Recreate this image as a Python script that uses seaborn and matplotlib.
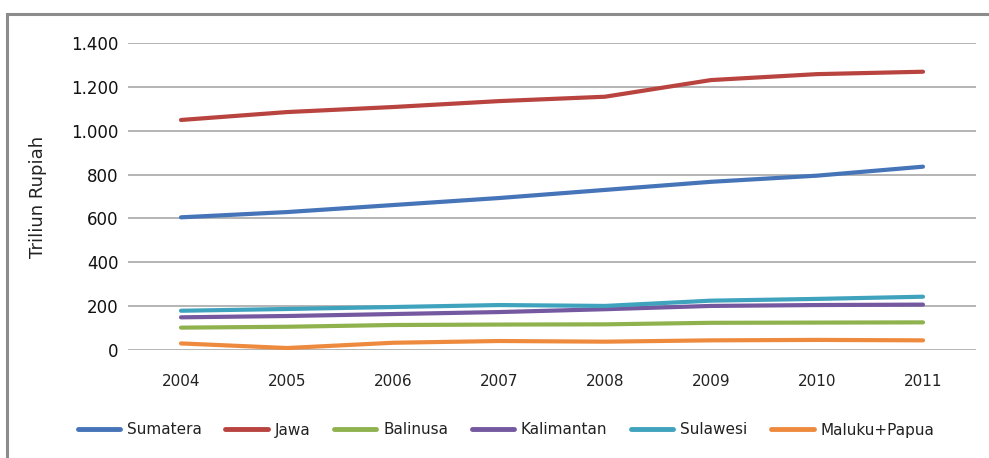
import matplotlib.pyplot as plt
import matplotlib.patches as mpatches
import matplotlib.ticker as mticker
import pandas as pd
import seaborn as sns

years = ["2004", "2005", "2006", "2007", "2008", "2009", "2010", "2011"]
regions = ["Sumatera", "Jawa", "Balinusa", "Kalimantan", "Sulawesi", "Maluku+Papua"]
sumatera = [605, 629, 661, 693, 730, 767, 795, 836]
jawa = [1049, 1085, 1108, 1135, 1155, 1231, 1258, 1269]
balinusa = [102, 106, 114, 116, 117, 124, 125, 126]
kalimantan = [149, 155, 164, 173, 186, 201, 205, 207]
sulawesi = [179, 187, 196, 205, 201, 225, 233, 243]
maluku_papua = [30, 9, 33, 41, 38, 44, 46, 44]
colors = ["#4574B8", "#B8433F", "#8FB24F", "#7458A0", "#40A3BE", "#EE8A3E"]

series = [sumatera, jawa, balinusa, kalimantan, sulawesi, maluku_papua]
rows = []
for name, vals in zip(regions, series):
    for i, v in enumerate(vals):
        rows.append({"pos": i, "tahun": years[i], "region": name, "nilai": v})
df = pd.DataFrame(rows)

sns.set_theme(style="white")
plt.rcParams["font.family"] = ["DejaVu Sans"]

fig = plt.figure(figsize=(9.89, 4.58), dpi=100)
ax = fig.add_axes([128 / 989, 1 - 350 / 458, 848 / 989, 307 / 458])

sns.lineplot(data=df, x="pos", y="nilai", hue="region", hue_order=regions,
             palette=colors, linewidth=3, ax=ax, legend=False)

ax.set_xlim(-0.5, len(years) - 0.5)
ax.set_ylim(0, 1400)
ax.set_xticks(range(len(years)))
ax.set_xticklabels(years)
ax.yaxis.set_major_locator(mticker.MultipleLocator(200))
ax.yaxis.set_major_formatter(mticker.FuncFormatter(lambda v, p: f"{int(v):,}".replace(",", ".")))
ax.grid(axis="y", color="#a8a8a8", linewidth=1.2)
ax.set_axisbelow(True)
for s in ax.spines.values():
    s.set_visible(False)
ax.tick_params(axis="x", length=0, pad=17, labelsize=11, colors="#222222")
ax.tick_params(axis="y", length=0, pad=7, labelsize=12, colors="#111111")
ax.set_xlabel("")
ax.set_ylabel("Triliun Rupiah", fontsize=13, color="#222222")
ax.yaxis.set_label_coords(-0.095, 0.5)

handles = [plt.Line2D([], [], color=c, linewidth=3.5, solid_capstyle="round", label=r)
           for r, c in zip(regions, colors)]
fig.legend(handles=handles, loc="center", bbox_to_anchor=(506 / 989, 1 - 430 / 458),
           ncol=6, frameon=False, fontsize=11, handlelength=2.75, handletextpad=0.45,
           columnspacing=1.57, labelcolor="#222222")

border = mpatches.Rectangle((7 / 989, -0.1), 1.1, 1.1 - 14 / 458, transform=fig.transFigure,
                            fill=False, edgecolor="#8c8c8c", linewidth=2.2)
fig.patches.append(border)

fig.savefig("out.png", dpi=100)
